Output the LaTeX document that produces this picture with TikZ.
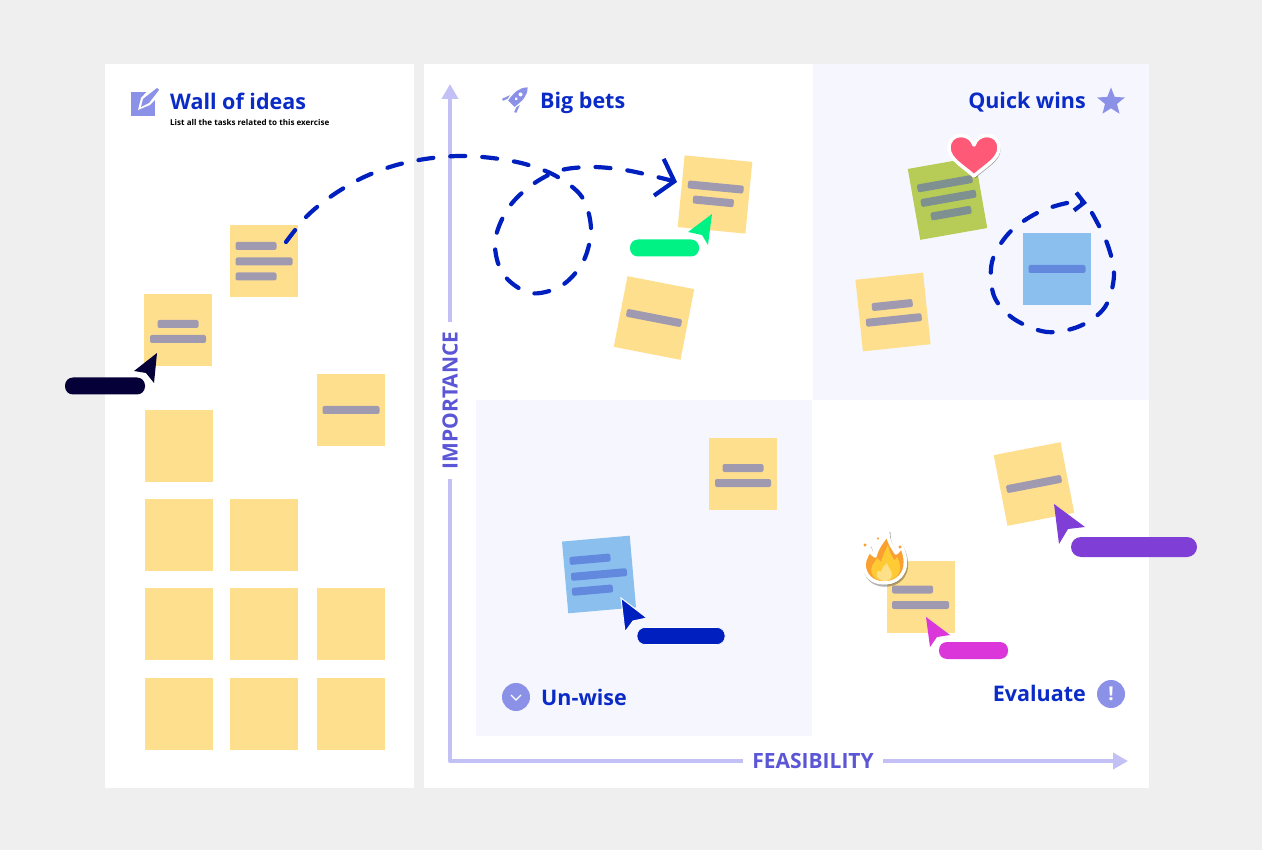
\documentclass[tikz,border=0pt]{standalone}
\usepackage{fontspec}
\setmainfont{Open Sans}
\usetikzlibrary{arrows.meta,calc,shapes.geometric}
\definecolor{pagebg}{HTML}{EFEFEF}
\definecolor{tint}{HTML}{F6F7FE}
\definecolor{paper}{HTML}{FEDF8E}
\definecolor{paperblue}{HTML}{8BC0EE}
\definecolor{papergreen}{HTML}{B7CC57}
\definecolor{barplain}{HTML}{9F9AB0}
\definecolor{barblue}{HTML}{6389DE}
\definecolor{bargreen}{HTML}{7F9090}
\definecolor{title}{HTML}{0A2BC6}
\definecolor{iconfill}{HTML}{8C91E8}
\definecolor{axis}{HTML}{C2C0F5}
\definecolor{axistext}{HTML}{5B56D6}
\definecolor{trail}{HTML}{001FBF}
\definecolor{navy}{HTML}{050038}
\definecolor{mint}{HTML}{00F285}
\definecolor{magenta}{HTML}{DA36D9}
\definecolor{purple}{HTML}{7F3FD6}
\definecolor{heartred}{HTML}{FF5978}
\definecolor{flameout}{HTML}{FAA030}
\definecolor{flamemid}{HTML}{FFCB35}
\definecolor{flamein}{HTML}{FFE08A}
\tikzset{
  stickybox/.style={fill=paper,minimum width=68pt,minimum height=72pt,inner sep=0pt},
  barbox/.style={rounded corners=2pt,minimum height=8pt,inner sep=0pt,transform shape},
  pillbox/.style={rounded corners=8pt,minimum height=17pt,inner sep=0pt},
  heading/.style={font=\fontsize{21.5}{24}\selectfont\bfseries,text=title,inner sep=0pt},
  axislabel/.style={font=\fontsize{21}{24}\selectfont\bfseries,text=axistext,inner xsep=9pt,inner ysep=0pt},
  axisline/.style={draw=axis,line width=4pt,line join=round},
  trailline/.style={draw=trail,line width=4.2pt,line cap=round,dash pattern=on 15pt off 17pt},
  roundicon/.style={circle,fill=iconfill,minimum size=28pt,inner sep=0pt},
}
% name, position, angle, paper, bar colour, bars as dx/dy/width
\newcommand{\sticky}[6]{
  \node[stickybox,fill=#4,rotate=#3] (#1) at (#2) {};
  \begin{scope}[shift={(#1.center)},rotate=#3]
    \foreach \dx/\dy/\w [count=\i] in {#6}
      \node[barbox,fill=#5,minimum width=\w pt] (#1-\i) at (\dx,\dy) {};
  \end{scope}
}
\newcommand{\pointer}[5]{
  \fill[#5] (#1) -- (#2) -- (#3) -- (#4) -- cycle;
}
\newcommand{\heartpath}{(974,176) .. controls (963,166) and (949,159) .. (949,148) .. controls (949,140) and (954,135.5) .. (961,135.5) .. controls (967,135.5) and (972,139) .. (974,145) .. controls (976,139) and (981,135.5) .. (987,135.5) .. controls (994,135.5) and (999,140) .. (999,148) .. controls (999,159) and (985,166) .. (974,176) -- cycle}
\newcommand{\flamepath}{(884,583) .. controls (872,583) and (864,575) .. (864,564) .. controls (865,557) and (868,554) .. (870,549) .. controls (871,553) and (873,555) .. (875,556) .. controls (877,548) and (882,541) .. (888,534) .. controls (888,542) and (893,548) .. (896,553) .. controls (898,552) and (899,550) .. (901,546) .. controls (905,553) and (906,560) .. (905,567) .. controls (903,577) and (895,583) .. (884,583) -- cycle}
\begin{document}
\begin{tikzpicture}[x=1pt,y=-1pt]
  \useasboundingbox (0,0) rectangle (1262,850);
  \fill[pagebg] (0,0) rectangle (1262,850);
  \fill[white] (105,64) rectangle (414,788);
  \fill[white] (424,64) rectangle (1149,788);
  \fill[tint] (813,64) rectangle (1149,400);
  \fill[tint] (476,400) rectangle (812,736);

  % axes
  \coordinate (ytop) at (450,84);
  \coordinate (xend) at (1128,761);
  \node[axislabel,rotate=90] (importance) at (450,400.5) {IMPORTANCE};
  \node[axislabel] (feasibility) at (813,761) {FEASIBILITY};
  \draw[axisline] (importance.west) |- (feasibility.west);
  \draw[axisline,-{Triangle[length=15pt,width=16pt]}] (importance.east) -- (ytop);
  \draw[axisline,-{Triangle[length=15pt,width=16pt]}] (feasibility.east) -- (xend);

  % headings
  \node[heading,anchor=base west] (wallhead) at (170,109.5) {Wall of ideas};
  \node[anchor=base west,inner sep=0pt,font=\fontsize{8.05}{10}\selectfont\bfseries] (wallsub) at (170,126) {List all the tasks related to this exercise};
  \node[heading,anchor=base west] (betshead) at (540,109) {Big bets};
  \node[heading,anchor=base east] (winshead) at (1086,109) {Quick wins};
  \node[heading,anchor=base west] (unwisehead) at (541,705) {Un-wise};
  \node[heading,anchor=base east] (evalhead) at (1086,701.5) {Evaluate};

  % icons
  \fill[iconfill] (131,92) rectangle (155,116.5);
  \fill[white] (138,110) -- (141,98) -- (154,84) -- (163,92) -- (150,105) -- cycle;
  \fill[iconfill] (141,107) -- (143,99) -- (157,88) -- (159,90) -- (149,103) -- cycle;
  \begin{scope}[shift={(517,98)},rotate=-45]
    \fill[iconfill] (0,-15) .. controls (6,-9) and (6,-2) .. (4.5,8) -- (-4.5,8) .. controls (-6,-2) and (-6,-9) .. (0,-15) -- cycle;
    \fill[iconfill] (-7,3) -- (-10,11) -- (-8,12) -- (-6,7) -- cycle;
    \fill[iconfill] (7,3) -- (10,11) -- (8,12) -- (6,7) -- cycle;
    \fill[white] (0,-5) circle (2pt);
    \fill[white] (0,1) circle (1.6pt);
  \end{scope}
  \node[star,star points=5,star point ratio=2.3,fill=iconfill,minimum size=29pt,inner sep=0pt] (winsicon) at (1111,102) {};
  \node[roundicon] (unwiseicon) at (516,697) {};
  \draw[white,line width=1.4pt] (511,695) -- (516,700) -- (521,695);
  \node[roundicon,text=white,font=\fontsize{19}{20}\selectfont\bfseries] (evalicon) at (1111,694) {!};

  % wall of ideas
  \foreach \x/\y [count=\i] in {179/446,179/535,264/535,179/624,264/624,351/624,179/714,264/714,351/714}
    \node[stickybox] (blank\i) at (\x,\y) {};
  \sticky{ideaA}{178,330}{0}{paper}{barplain}{0/-6/41,0/9/56}
  \sticky{ideaB}{264,261.5}{0}{paper}{barplain}{-8/-15.5/41,0/0/57,-8/15/41}
  \sticky{ideaC}{351,410}{0}{paper}{barplain}{0/0/57}

  % quadrants
  \sticky{betA}{715,194.5}{-5.5}{paper}{barplain}{0/-7.5/56,-1/7/41}
  \sticky{betB}{654,318}{-11}{paper}{barplain}{0/0/56}
  \sticky{winA}{947.5,198.5}{10}{papergreen}{bargreen}{0/-15/56,1/0/56,1/15/41}
  \sticky{winB}{1057,269}{0}{paperblue}{barblue}{0/0/57}
  \sticky{winC}{893,312}{6}{paper}{barplain}{0/-7/41,0/8/56}
  \sticky{unwiseA}{743,474}{0}{paper}{barplain}{0/-6/41,0/9/56}
  \sticky{unwiseB}{599,574.5}{5}{paperblue}{barblue}{-7.6/-16/41,0/0/56,-7.9/15/41}
  \sticky{evalA}{1034,484}{11}{paper}{barplain}{0/0/56}
  \sticky{evalB}{920.5,597}{0}{paper}{barplain}{-8/-7.5/41,0/8/57}

  % dashed trails
  \coordinate (wallout) at (286,242);
  \coordinate (betin) at (677,182);
  \coordinate (loopout) at (1092,213);
  \coordinate (loopin) at (1087,203);
  \draw[trailline,-{Straight Barb[length=16pt,width=38pt]}] plot[smooth,tension=0.55] coordinates {(wallout) (307,216) (333,195) (362,178) (393,166) (425,159) (459,156) (492,158) (525,164) (556,176) (582,197) (591,229) (583,262) (561,286) (530,293) (503,274) (495,242) (507,210) (529,187) (558,171) (591,167) (625,170) (657,177) (betin)};
  \draw[trailline,-{Straight Barb[length=9pt,width=18pt]}] plot[smooth,tension=0.55] coordinates {(loopout) (1107,243) (1114,275) (1105,307) (1080,326) (1047,332) (1014,319) (994,296) (992,262) (1009,233) (1037,213) (1067,203) (loopin)};

  % stickers
  \fill[black,opacity=0.35,shift={(1.5,2)}] \heartpath;
  \filldraw[draw=white,line width=3.5pt,line join=round,fill=heartred] \heartpath;
  \filldraw[draw=black,draw opacity=0.3,fill opacity=0.3,line width=3.5pt,shift={(1,2)}] \flamepath;
  \filldraw[draw=white,line width=3.5pt,line join=round,fill=flameout] \flamepath;
  \fill[flamemid] (884,581) .. controls (875,581) and (869,574) .. (872,566) .. controls (874,562) and (876,561) .. (877,558) .. controls (879,560) and (880,561) .. (881,562) .. controls (883,556) and (885,550) .. (888,545) .. controls (889,552) and (892,556) .. (894,560) .. controls (895,560) and (896,559) .. (897,557) .. controls (901,564) and (901,570) .. (898,575) .. controls (895,579) and (889,581) .. (884,581) -- cycle;
  \fill[flamein] (885,581) .. controls (879,581) and (875,576) .. (877,572) .. controls (878,570) and (880,571) .. (881,572) .. controls (882,568) and (884,566) .. (887,563) .. controls (888,567) and (890,569) .. (891,571) .. controls (893,574) and (892,581) .. (885,581) -- cycle;
  \filldraw[draw=white,line width=1.5pt,fill=flameout] (865,545) circle (2.4pt) (878,538.5) circle (2pt) (900,547) circle (2.4pt);

  % pointers
  \pointer{157,353}{134,371}{146,373}{154,383}{navy}
  \node[pillbox,fill=navy,minimum width=80pt] (pillnavy) at (105,386) {};
  \pointer{712,214}{688,232}{702,235}{708,245}{mint}
  \node[pillbox,fill=mint,minimum width=69pt] (pillmint) at (664.5,248) {};
  \pointer{621,598}{647,618}{633,621}{625,632}{trail,draw=white,line width=1pt}
  \node[pillbox,fill=trail,draw=white,line width=0.6pt,minimum width=88pt] (pillblue) at (681,636) {};
  \pointer{926,617}{950,635}{937,637}{930,647}{magenta}
  \node[pillbox,fill=magenta,minimum width=69pt] (pillmagenta) at (973.5,650.5) {};
  \pointer{1054,504}{1085,527}{1068,529}{1059,544}{purple}
  \node[pillbox,fill=purple,rounded corners=10pt,minimum height=20pt,minimum width=126pt] (pillpurple) at (1134,547) {};
\end{tikzpicture}
\end{document}
